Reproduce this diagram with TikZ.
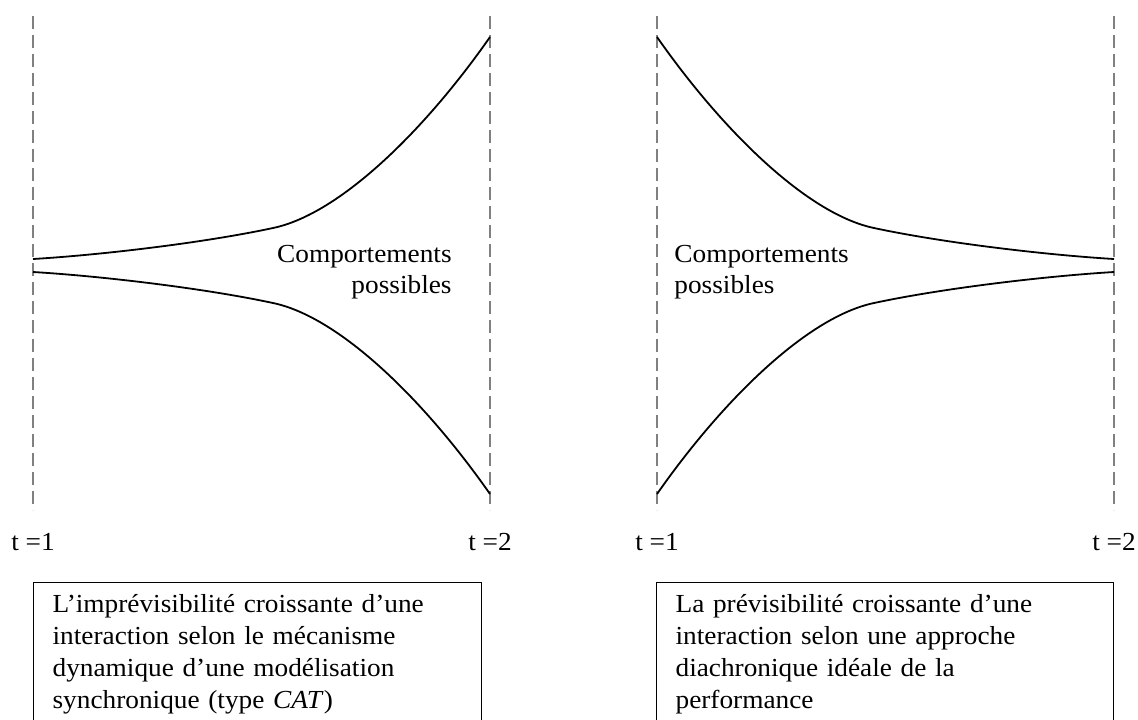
\documentclass[tikz,border=0pt]{standalone}
\usepackage{fontspec}
\setmainfont{Liberation Serif}[FakeStretch=1.05]
\usepackage{tikz}
\usetikzlibrary{positioning}
\colorlet{guidegray}{black!50}

\begin{document}
\begin{tikzpicture}[
  x=0.5pt,y=-0.5pt,
  guide/.style={draw=guidegray,line width=1pt,dash pattern=on 6.5pt off 3pt},
  spread/.style={draw=black,line width=0.9pt},
  tlabel/.style={anchor=base,inner sep=0,font=\fontsize{13}{16}\selectfont},
  zone/.style={inner sep=0,font=\fontsize{13}{15.5}\selectfont},
  caption/.style={draw,line width=0.6pt,anchor=north west,align=left,
    text width=205pt,inner xsep=9.5pt,inner ysep=6pt,
    font=\fontsize{13}{16}\selectfont}
]
\useasboundingbox (0,0) rectangle (1138,719);
\clip (0,0) rectangle (1138,719);

% left panel
\coordinate (L1top) at (33,16);
\coordinate (L1bot) at (33,510);
\coordinate (L2top) at (490,16);
\coordinate (L2bot) at (490,510);
\draw[guide] (L1top) -- (L1bot);
\draw[guide] (L2top) -- (L2bot);

\draw[spread] (33,259) .. controls (100,255) and (203,243) .. (273,228)
  .. controls (340,214) and (425,130) .. (490,37);
\draw[spread] (33,272) .. controls (100,276) and (203,288) .. (273,303)
  .. controls (340,317) and (425,401) .. (490,494);

\node[zone,align=right,anchor=north east] (zoneL) at (452,245) {Comportements\\possibles};

\node[tlabel] (tL1) at (L1bot |- 0,550) {t =1};
\node[tlabel] (tL2) at (L2bot |- 0,550) {t =2};

\node[caption] (capL) at (33,582)
  {L’imprévisibilité croissante d’une\\
   interaction selon le mécanisme\\
   dynamique d’une modélisation\\
   synchronique (type \textit{CAT})};

% right panel
\coordinate (R1top) at (657,16);
\coordinate (R1bot) at (657,510);
\coordinate (R2top) at (1114,16);
\coordinate (R2bot) at (1114,510);
\draw[guide] (R1top) -- (R1bot);
\draw[guide] (R2top) -- (R2bot);

\draw[spread] (657,37) .. controls (722,130) and (807,214) .. (874,228)
  .. controls (944,243) and (1047,255) .. (1114,259);
\draw[spread] (657,494) .. controls (722,401) and (807,317) .. (874,303)
  .. controls (944,288) and (1047,276) .. (1114,272);

\node[zone,align=left,anchor=north west] (zoneR) at (674,245) {Comportements\\possibles};

\node[tlabel] (tR1) at (R1bot |- 0,550) {t =1};
\node[tlabel] (tR2) at (R2bot |- 0,550) {t =2};

\node[caption,text width=209.5pt] (capR) at (656,582)
  {La prévisibilité croissante d’une\\
   interaction selon une approche\\
   diachronique idéale de la\\
   performance};

\end{tikzpicture}
\end{document}
